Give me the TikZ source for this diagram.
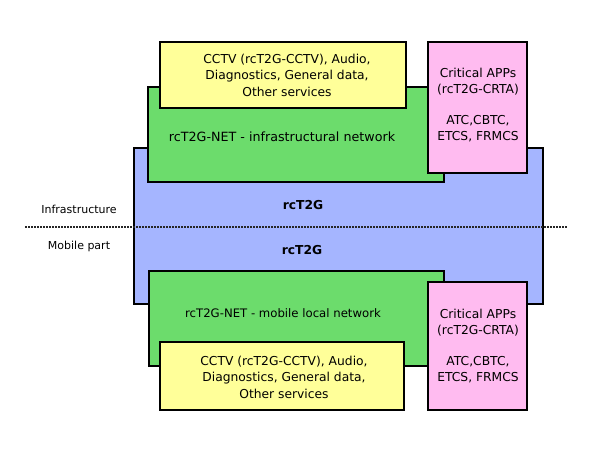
\documentclass[tikz,border=0pt]{standalone}
\usepackage{fontspec}
\setmainfont{DejaVu Sans}
\definecolor{netblue}{HTML}{A5B5FF}
\definecolor{netgreen}{HTML}{6CDC6C}
\definecolor{appyellow}{HTML}{FFFF99}
\definecolor{apppink}{HTML}{FFBBF0}
\tikzset{
  layer/.style = {draw=black, line width=1.5pt},
  txt/.style = {inner sep=0pt, align=center,
                font=\fontsize{#1}{16.5}\selectfont},
  txt/.default = 12.3
}

\begin{document}
\begin{tikzpicture}[x=1pt,y=-1pt]
	\useasboundingbox (0,0) rectangle (590,450);
	\def \gap{14pt}

	% rcT2G
	\filldraw[layer, fill=netblue] (134,148) rectangle (543,304);

	% Infrastructure side
	\filldraw[layer, fill=netgreen]  (148,87)  rectangle (444,182);
	\filldraw[layer, fill=appyellow] (160,42)  rectangle (406,108);
	\filldraw[layer, fill=apppink]   (428,42)  rectangle (527,173);

	% Mobile side
	\filldraw[layer, fill=netgreen]  (149,271) rectangle (444,366);
	\filldraw[layer, fill=appyellow] (160,342) rectangle (404,410);
	\filldraw[layer, fill=apppink]   (428,282) rectangle (527,410);

	% Border
	\coordinate (borderW) at (25,227);
	\coordinate (borderE) at (567,227);
	\draw[black!85, line width=1.5pt, dash pattern=on 1.5pt off 1.5pt] (borderW) -- (borderE);

	% Labels
	\node[txt] (coreInfra)  at (303,205) {\bfseries rcT2G};
	\node[txt] (coreMobile) at (302,250) {\bfseries rcT2G};
	\node[txt=11] (infraLabel)  at (79,209) {Infrastructure};
	\node[txt=11] (mobileLabel) at (79,246) {Mobile part};

	\node[txt=12.7] (netInfra)  at (282,137) {rcT2G-NET - infrastructural network};
	\node[txt=11.7] (netMobile) at (283,313) {rcT2G-NET - mobile local network};

	\node[txt] (servInfra)  at (287,75)  {CCTV (rcT2G-CCTV), Audio,\\ Diagnostics, General data,\\ Other services};
	\node[txt] (servMobile) at (284,377) {CCTV (rcT2G-CCTV), Audio,\\ Diagnostics, General data,\\ Other services};

	\node[txt] (critInfra)  at (478,105) {Critical APPs\\ (rcT2G-CRTA)\\[\gap] ATC,CBTC,\\ ETCS, FRMCS};
	\node[txt] (critMobile) at (478,346) {Critical APPs\\ (rcT2G-CRTA)\\[\gap] ATC,CBTC,\\ ETCS, FRMCS};

\end{tikzpicture}
\end{document}
